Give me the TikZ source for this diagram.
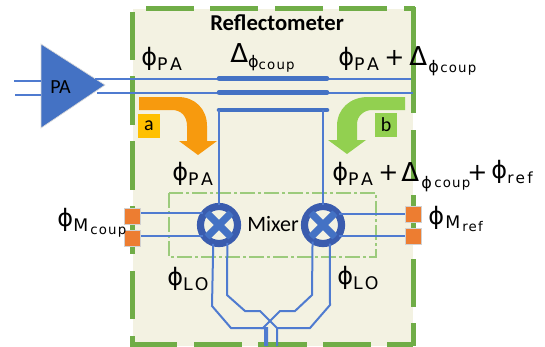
\documentclass[tikz,border=0pt]{standalone}
\usepackage{fontspec}
\setmainfont{Carlito}
\newfontfamily\phifont{DejaVu Sans}
\newfontfamily\capfont[LetterSpace=15]{DejaVu Sans}
\newfontfamily\subfont[LetterSpace=9]{DejaVu Sans}
\definecolor{panelbg}{HTML}{F3F2E2}
\definecolor{framegreen}{HTML}{70AD47}
\definecolor{paleblue}{HTML}{4472C4}
\definecolor{wireblue}{HTML}{4F7BD0}
\definecolor{ringblue}{HTML}{3A5CAE}
\definecolor{portorange}{HTML}{ED7D31}
\definecolor{arroworange}{HTML}{F79A0E}
\definecolor{arrowgreen}{HTML}{92D050}
\definecolor{tagyellow}{HTML}{FFC000}
\definecolor{mixgreen}{HTML}{9CCB7C}
\newcommand{\phisym}{{\phifont\fontsize{18}{18}\selectfont ϕ}}
\newcommand{\delsym}{{\phifont\fontsize{19.5}{19.5}\selectfont Δ}}
\newcommand{\plussym}{{\phifont\fontsize{18}{18}\selectfont +}}
\newcommand{\capsub}[2][-3.75pt]{\raisebox{#1}{\capfont\fontsize{13}{13}\selectfont #2}}
\newcommand{\lowsub}[2][-5.25pt]{\raisebox{#1}{\subfont\fontsize{10}{10}\selectfont #2}}
\newcommand{\lowphi}{\raisebox{-3pt}{\phifont\fontsize{12}{12}\selectfont ϕ}}
\tikzset{
  frameseg/.style={draw=framegreen, line width=3.75pt},
  wire/.style={draw=wireblue, line width=1.5pt},
  coupler/.style={draw=paleblue, line width=3.4pt, line cap=round},
  port/.style={rectangle, fill=portorange, draw=black!18, line width=.7pt, minimum size=12pt, inner sep=0pt},
  mixer/.style={circle, fill=panelbg, draw=ringblue, line width=3.6pt, minimum size=26pt, inner sep=0pt},
  mixarm/.style={draw=paleblue, line width=5.4pt},
  tagbox/.style={rectangle, minimum width=16pt, minimum height=17.5pt, inner sep=0pt, font=\fontsize{15}{15}\selectfont},
  txt/.style={anchor=base west, inner sep=0pt}
}
\begin{document}
\begin{tikzpicture}[x=.75pt,y=-.75pt]
\useasboundingbox (0,0) rectangle (545,346);
\fill[panelbg] (133,9) rectangle (413,346);
\foreach \ya/\yb in {12/60,76/125,141/190,206/254,271/319,336/345}
  \draw[frameseg] (132,\ya) -- (132,\yb);
\foreach \xa/\xb in {146/194,210/258,275/323,339/387,404/415}
  \draw[frameseg] (\xa,9) -- (\xb,9);
\foreach \ya/\yb in {7/113,130/179,195/243,259/307,323/346}
  \draw[frameseg] (413,\ya) -- (413,\yb);
\foreach \xa/\xb in {130/177,194/242,258/307,323/371,387/413}
  \draw[frameseg] (\xa,344) -- (\xb,344);
\fill[paleblue, draw=black!15, line width=.5pt] (41,44) -- (41,128) -- (105,85) -- cycle;
\node (pa) at (60.5,87) {\fontsize{15}{15}\selectfont PA};
\draw[mixgreen, line width=1.1pt, dash pattern=on 11pt off 2.5pt on 2pt off 2.5pt] (169,193) rectangle (376,257);
\fill[arroworange] (139,97) -- (178,97) .. controls (195,97) and (207,109) .. (207,126) -- (207,141) -- (217,141) -- (198,155) -- (179,141) -- (187,141) -- (187,126) .. controls (187,116) and (181,110) .. (172,110) -- (139,110) -- cycle;
\fill[arrowgreen] (405,97) -- (368,97) .. controls (350,97) and (337,109) .. (337,126) -- (337,140) -- (328,140) -- (347,154) -- (366,140) -- (357,140) -- (357,124) .. controls (357,116) and (364,110) .. (372,110) -- (405,110) -- cycle;
\node[tagbox, fill=tagyellow] (taga) at (149,126) {a};
\node[tagbox, fill=arrowgreen] (tagb) at (386,125) {b};
\coordinate (inA) at (14,81);
\coordinate (inB) at (15,95);
\coordinate (paInA) at (41,81);
\coordinate (paInB) at (41,95);
\coordinate (paOutA) at (95,78.5);
\coordinate (paOutB) at (97,92.5);
\coordinate (coupAw) at (219,78.5);
\coordinate (coupAe) at (327,78.5);
\coordinate (coupBw) at (219,92.5);
\coordinate (coupBe) at (327,92.5);
\coordinate (coupCw) at (219,110);
\coordinate (coupCe) at (327,110);
\coordinate (outA) at (411,78.5);
\coordinate (outB) at (413,92.5);
\coordinate (loLeft) at (265,346);
\coordinate (loRight) at (277,346);
\node[port] (portCa) at (132.5,216) {};
\node[port] (portCb) at (132.5,238) {};
\node[port] (portRa) at (413,214) {};
\node[port] (portRb) at (413,236) {};
\node[mixer] (mixL) at (219,225) {};
\node[mixer] (mixR) at (323,225) {};
\foreach \m in {mixL,mixR} {
  \draw[mixarm] (\m.45) -- (\m.225);
  \draw[mixarm] (\m.135) -- (\m.315);
  \draw[ringblue, line width=3.6pt] (\m) circle [radius=13pt+1.8pt];
}
\draw[wire] (inA) -- (paInA);
\draw[wire] (inB) -- (paInB);
\draw[wire] (paOutA) -- (outA);
\draw[wire] (paOutB) -- (outB);
\draw[coupler] (coupAw) -- (coupAe);
\draw[coupler] (coupBw) -- (coupBe);
\draw[coupler] (coupCw) -- (coupCe);
\draw[wire] (coupCw -| mixL.north) -- (mixL.north);
\draw[wire] (coupCe -| mixR.north) -- (mixR.north);
\draw[wire] (portCa.east |- mixL.142) -- (mixL.142);
\draw[wire] (portCb.east |- mixL.215) -- (mixL.215);
\draw[wire] (mixR.35) -- (portRa.west |- mixR.35);
\draw[wire] (mixR.-35) -- (portRb.west |- mixR.-35);
\draw[wire] (mixL.253) -- (212,306) -- (231,328) -- (265,328) -- (loLeft);
\draw[wire] (mixL.-65) -- (227,295) -- (245,311) -- (260,311) -- (277,328) -- (loRight);
\draw[wire] (mixR.-122) -- (312,295) -- (295,311) -- (280,311) -- (263,328) -- (267,328) -- (267,346);
\draw[wire] (mixR.-70) -- (330,305) -- (310,328) -- (277,328);
\node[txt] (title) at (210,31) {\fontsize{17}{17}\selectfont\bfseries Reflectometer};
\node[txt] (mixtxt) at (247,231) {\fontsize{16.5}{16.5}\selectfont Mixer};
\node[txt] (phiPAin) at (141,65) {\phisym\capsub{P\kern2pt A}};
\node[txt] (delCoup) at (230,63) {\delsym\lowphi\lowsub{coup}};
\node[txt] (phiPAout) at (338,65) {\phisym\capsub{P\kern2pt A}};
\node[txt] (plusOut) at (384,65) {\plussym};
\node[txt] (delOut) at (409,65) {\delsym};
\node[txt] (phiCoupOut) at (428,68) {\lowphi};
\node[txt] (coupOut) at (440,72) {\lowsub[0pt]{coup}};
\node[txt] (phiPAlow) at (172,180) {\phisym\capsub{P\kern2pt A}};
\node[txt] (phiPAsum) at (332,180) {\phisym\capsub{P\kern2pt A}};
\node[txt] (plusA) at (378,180) {\plussym};
\node[txt] (delSum) at (401,181) {\delsym};
\node[txt] (phiCoupSum) at (421,184) {\lowphi};
\node[txt] (coupSum) at (434,187) {\lowsub[0pt]{coup}};
\node[txt] (plusB) at (467,180) {\plussym};
\node[txt] (phiRefSum) at (491,178) {\phisym};
\node[txt] (refSum) at (507,183) {\capsub[0pt]{\fontsize{11.5}{11.5}\selectfont ref}};
\node[txt] (phiMcoup) at (57,226) {\phisym};
\node[txt] (mMcoup) at (73,231) {\capsub[0pt]{M}};
\node[txt] (coupM) at (90,234) {\lowsub[0pt]{coup}};
\node[txt] (phiMref) at (428,224) {\phisym};
\node[txt] (mMref) at (445,228) {\capsub[0pt]{M}};
\node[txt] (refM) at (462,231) {\lowsub[0pt]{ref}};
\node[txt] (phiLOl) at (167,285) {\phisym\capsub{L\kern1.5pt O}};
\node[txt] (phiLOr) at (337,284) {\phisym\capsub{L\kern1.5pt O}};
\end{tikzpicture}
\end{document}
